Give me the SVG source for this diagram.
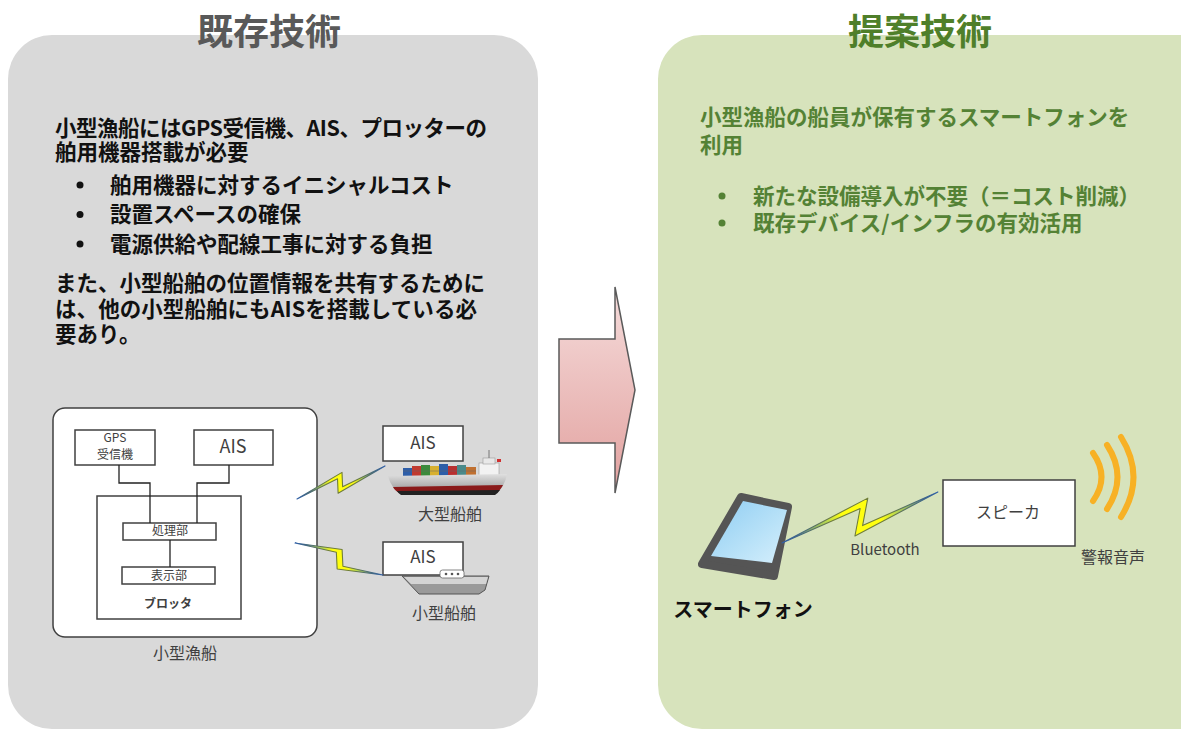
<svg xmlns="http://www.w3.org/2000/svg" width="1181" height="731" viewBox="0 0 1181 731">
  <style>
    .jp { font-family: "Noto Sans CJK JP", "Noto Sans", sans-serif; }
    .title { font-size: 36px; font-weight: 700; text-anchor: middle; }
    .body { font-size: 21.5px; font-weight: 700; }
    .bodyL { fill: #111111; }
    .bodyR { fill: #548235; }
    .box { fill: #ffffff; stroke: #404040; stroke-width: 1.5; }
    .lbl { fill: #404040; text-anchor: middle; }
    .wire { fill: none; stroke: #222222; stroke-width: 1.3; }
    .bolt { fill: url(#boltFill); stroke: url(#boltEdge); stroke-width: 1.1; stroke-linejoin: round; }
    .wave { fill: none; stroke: #f7b125; stroke-width: 6; stroke-linecap: round; }
  </style>
  <defs>
    <linearGradient id="boltFill" x1="0" y1="0" x2="1" y2="0">
      <stop offset="0" stop-color="#2f5fa8"/>
      <stop offset="0.3" stop-color="#b8d850"/>
      <stop offset="0.4" stop-color="#ffff10"/>
      <stop offset="0.62" stop-color="#ffff10"/>
      <stop offset="0.72" stop-color="#b8d850"/>
      <stop offset="1" stop-color="#2f5fa8"/>
    </linearGradient>
    <linearGradient id="boltEdge" x1="0" y1="0" x2="1" y2="0">
      <stop offset="0" stop-color="#2f5fa8"/>
      <stop offset="0.35" stop-color="#6f7d3a"/>
      <stop offset="0.65" stop-color="#6f7d3a"/>
      <stop offset="1" stop-color="#2f5fa8"/>
    </linearGradient>
    <linearGradient id="arrowFill" x1="0" y1="0" x2="0" y2="1">
      <stop offset="0" stop-color="#f5dcdb"/>
      <stop offset="1" stop-color="#e2a19f"/>
    </linearGradient>
    <linearGradient id="screen" x1="0" y1="0" x2="1" y2="1">
      <stop offset="0" stop-color="#8fcdf2"/>
      <stop offset="0.6" stop-color="#b9e2f8"/>
      <stop offset="1" stop-color="#d6effc"/>
    </linearGradient>
    <linearGradient id="hull" x1="0" y1="0" x2="0" y2="1">
      <stop offset="0" stop-color="#e0e0e0"/>
      <stop offset="1" stop-color="#8f8f8f"/>
    </linearGradient>
  </defs>

  <!-- background panels -->
  <rect x="8" y="35" width="530" height="694" rx="44" fill="#d9d9d9"/>
  <rect x="658" y="35" width="570" height="694" rx="44" fill="#d7e3bc"/>

  <!-- headings -->
  <text class="jp title" x="269" y="45" fill="#595959">既存技術</text>
  <text class="jp title" x="920" y="45" fill="#4f7f2a">提案技術</text>

  <!-- left description -->
  <g id="existing-text" class="jp body bodyL">
    <text x="55" y="136" textLength="432" lengthAdjust="spacing">小型漁船にはGPS受信機、AIS、プロッターの</text>
    <text x="55" y="160">舶用機器搭載が必要</text>
    <circle cx="80" cy="185" r="3.5"/>
    <circle cx="80" cy="214.5" r="3.5"/>
    <circle cx="80" cy="244" r="3.5"/>
    <text x="110" y="193">舶用機器に対するイニシャルコスト</text>
    <text x="110" y="222">設置スペースの確保</text>
    <text x="110" y="252">電源供給や配線工事に対する負担</text>
    <text x="55" y="291">また、小型船舶の位置情報を共有するために</text>
    <text x="55" y="317" textLength="422" lengthAdjust="spacing">は、他の小型船舶にもAISを搭載している必</text>
    <text x="55" y="342">要あり。</text>
  </g>

  <!-- right description -->
  <g id="proposed-text" class="jp body bodyR">
    <text x="700" y="125">小型漁船の船員が保有するスマートフォンを</text>
    <text x="700" y="153">利用</text>
    <circle cx="722" cy="196" r="3.5" fill="#548235"/>
    <circle cx="722" cy="223" r="3.5" fill="#548235"/>
    <text x="753" y="204">新たな設備導入が不要（＝コスト削減）</text>
    <text x="753" y="231">既存デバイス/インフラの有効活用</text>
  </g>

  <!-- transition arrow -->
  <polygon points="559,339 615,339 615,287 635,390 615,493 615,443 559,443" fill="url(#arrowFill)" stroke="#5a5a5a" stroke-width="1.5" stroke-linejoin="miter"/>

  <!-- fishing boat equipment -->
  <g id="fishing-boat">
    <rect x="53" y="408" width="264" height="229" rx="12" class="box"/>
    <text class="jp lbl" x="185" y="659" font-size="16">小型漁船</text>
  </g>
  <g id="gps">
    <rect x="75" y="430" width="80" height="35" class="box"/>
    <text class="jp lbl" x="115" y="442" font-size="12">GPS</text>
    <text class="jp lbl" x="115" y="459" font-size="12">受信機</text>
  </g>
  <g id="ais-own">
    <rect x="194" y="430" width="79" height="35" class="box"/>
    <text class="jp lbl" x="233" y="453" font-size="18">AIS</text>
  </g>
  <g id="plotter">
    <rect x="97" y="496" width="144" height="123" class="box"/>
    <text class="jp lbl" x="168" y="608" font-size="12" font-weight="700" fill="#555555">ブロッタ</text>
  </g>
  <g id="processor">
    <rect x="123" y="523" width="93" height="17" class="box"/>
    <text class="jp lbl" x="170" y="535" font-size="12">処理部</text>
  </g>
  <g id="display">
    <rect x="122" y="567" width="93" height="17" class="box"/>
    <text class="jp lbl" x="169" y="580" font-size="12">表示部</text>
  </g>

  <!-- large vessel -->
  <g id="large-vessel">
    <rect x="383" y="426" width="80" height="35" class="box"/>
    <text class="jp lbl" x="423" y="449" font-size="17">AIS</text>
    <!-- superstructure -->
    <rect x="479" y="463" width="20" height="13" fill="#f2f2f2" stroke="#9a9a9a" stroke-width="0.6"/>
    <rect x="483" y="458" width="12" height="6" fill="#e8e8e8" stroke="#9a9a9a" stroke-width="0.6"/>
    <line x1="489" y1="450" x2="489" y2="458" stroke="#777" stroke-width="1"/>
    <rect x="497" y="459" width="4" height="3" fill="#d03030"/>
    <!-- containers -->
    <rect x="403" y="468" width="9" height="8" fill="#2e5ea8"/>
    <rect x="412" y="466" width="9" height="10" fill="#c03a30"/>
    <rect x="421" y="465" width="9" height="11" fill="#3c8a3c"/>
    <rect x="430" y="466" width="9" height="10" fill="#d8b030"/>
    <rect x="439" y="464" width="9" height="12" fill="#2e5ea8"/>
    <rect x="448" y="466" width="9" height="10" fill="#b83030"/>
    <rect x="457" y="465" width="9" height="11" fill="#4a8a8a"/>
    <rect x="466" y="467" width="10" height="9" fill="#c07030"/>
    <line x1="403" y1="471" x2="476" y2="471" stroke="#666" stroke-width="0.5"/>
    <!-- hull -->
    <path d="M388,476 L507,474 Q505,487 495,494 L401,494 Q391,488 388,476 Z" fill="url(#hull)"/>
    <path d="M393,487 L503,485 Q500,491 495,494 L401,494 Q395,491 393,487 Z" fill="#8a1a1a"/>
    <path d="M397,491 L500,490 Q498,493 495,495 L401,495 Q398,493 397,491 Z" fill="#222222"/>
    <text class="jp lbl" x="450" y="520" font-size="16">大型船舶</text>
  </g>

  <!-- small vessel -->
  <g id="small-vessel">
    <rect x="383" y="542" width="80" height="33" class="box"/>
    <text class="jp lbl" x="423" y="563" font-size="17">AIS</text>
    <path d="M402,576 L489,576 L485,590 L479,594 L419,594 Z" fill="#9a9a9a" stroke="#555555" stroke-width="1"/>
    <path d="M404,577 L488,577 L486,584 L411,584 Z" fill="#d4d4d4"/>
    <rect x="440" y="570" width="24" height="8" rx="2.5" fill="#ffffff" stroke="#666666" stroke-width="0.8"/>
    <circle cx="446" cy="574" r="1.3" fill="#555"/>
    <circle cx="452" cy="574" r="1.3" fill="#555"/>
    <circle cx="458" cy="574" r="1.3" fill="#555"/>
    <text class="jp lbl" x="444" y="619" font-size="16">小型船舶</text>
  </g>

  <!-- smartphone -->
  <g id="smartphone">
    <polygon points="741,497 788,507 774,576 702,564" fill="#555555" stroke="#555555" stroke-width="8" stroke-linejoin="round"/>
    <polygon points="743,501 787,510 772,563 711,556" fill="url(#screen)"/>
    <text class="jp" x="743" y="617" font-size="20" font-weight="700" fill="#111111" text-anchor="middle">スマートフォン</text>
  </g>

  <!-- speaker -->
  <g id="speaker">
    <rect x="943" y="480" width="132" height="66" class="box"/>
    <text class="jp lbl" x="1008" y="518" font-size="16">スピーカ</text>
    <path class="wave" d="M1093,453 Q1110,477 1093,501"/>
    <path class="wave" d="M1107,445 Q1128,477 1107,509"/>
    <path class="wave" d="M1121,437 Q1146,477 1121,517"/>
    <text class="jp lbl" x="1113" y="563" font-size="16">警報音声</text>
  </g>

  <!-- wiring and wireless links -->
  <g id="connectors">
    <polyline class="wire" points="119,465 119,483 150,483 150,523"/>
    <polyline class="wire" points="229,465 229,483 197,483 197,523"/>
    <line class="wire" x1="170" y1="540" x2="170" y2="567"/>
    <g transform="translate(297,499) rotate(-20.6)">
      <polygon class="bolt" points="0,0 51.5,-9.1 47,4.6 94,0 40.5,9.1 45,-4.6"/>
    </g>
    <g transform="translate(295,543) rotate(20)">
      <polygon class="bolt" points="0,0 46.5,-10 53,5.5 93.6,0 48.5,10 42,-5.5"/>
    </g>
    <g transform="translate(782,543) rotate(-18.1)">
      <polygon class="bolt" points="0,0 95.5,-16 82,8.5 164,0 71.5,16 85,-8.5"/>
    </g>
    <text class="jp" x="885" y="555" font-size="15" fill="#404040" text-anchor="middle">Bluetooth</text>
  </g>
</svg>
